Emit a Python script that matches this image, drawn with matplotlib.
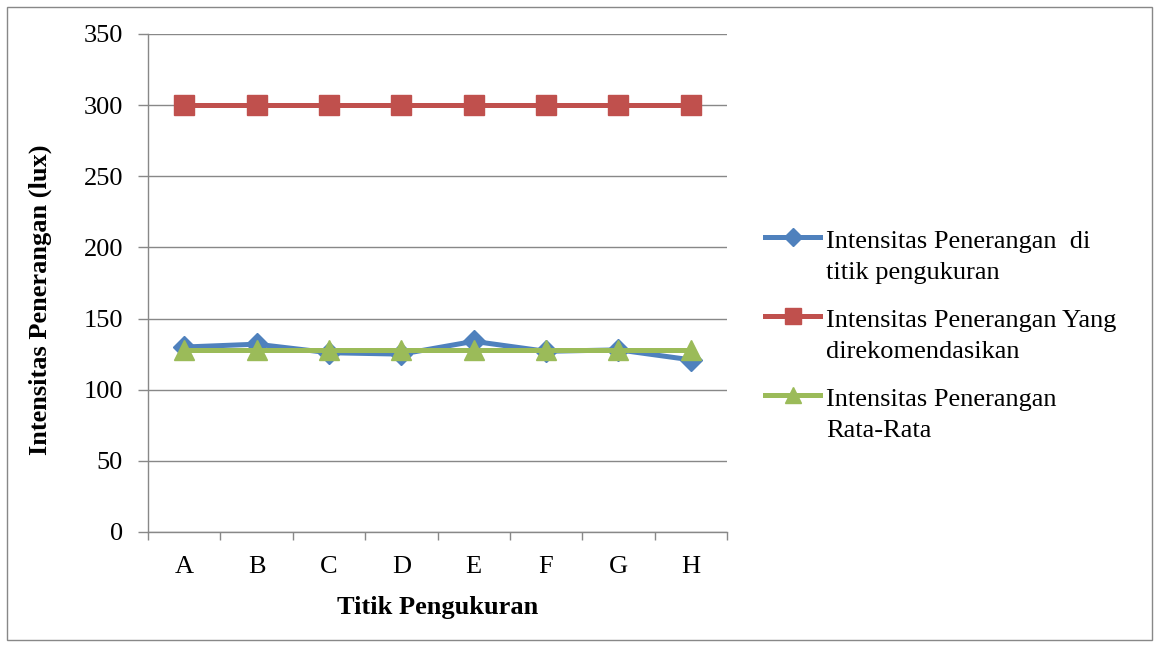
import matplotlib
matplotlib.use("Agg")
import matplotlib.pyplot as plt
from matplotlib.patches import Rectangle
from matplotlib.lines import Line2D

categories = ["A", "B", "C", "D", "E", "F", "G", "H"]
measured = [130, 132, 126, 125, 134, 127, 128, 121]
recommended = [300, 300, 300, 300, 300, 300, 300, 300]
average = [127.9, 127.9, 127.9, 127.9, 127.9, 127.9, 127.9, 127.9]
labels = ["Intensitas Penerangan  di\ntitik pengukuran",
          "Intensitas Penerangan Yang\ndirekomendasikan",
          "Intensitas Penerangan\nRata-Rata"]
yticks = [0, 50, 100, 150, 200, 250, 300, 350]

plt.rcParams['font.family'] = ['Liberation Serif', 'DejaVu Serif']
W, H = 1159, 647
FS = 19
fig = plt.figure(figsize=(W / 100, H / 100), dpi=100)
ax = fig.add_axes([148 / W, 1 - 532 / H, (727 - 148) / W, (532 - 34) / H])

styles = [dict(color="#4F81BD", marker="D", ms=11),
          dict(color="#C0504D", marker="s", ms=14),
          dict(color="#9BBB59", marker="^", ms=14)]
LW = 3.6

x = list(range(len(categories)))
for vals, st, z in zip([measured, recommended, average], styles, [3, 3, 4]):
    ax.plot(x, vals, lw=LW, zorder=z, **st)

ax.set_xlim(-0.5, len(categories) - 0.5)
ax.set_ylim(0, 350)
ax.set_yticks(yticks)
ax.set_yticklabels([str(v) for v in yticks], fontsize=FS)
ax.set_xticks(x)
ax.set_xticklabels(categories, fontsize=FS)
ax.set_xticks([i - 0.5 for i in range(len(categories) + 1)], minor=True)
ax.tick_params(axis="x", which="major", length=0, pad=17)
ax.tick_params(axis="x", which="minor", length=6, color="#888888", width=1)
ax.tick_params(axis="y", length=7, color="#888888", width=1, pad=11)
ax.grid(axis="y", color="#888888", lw=1)
ax.set_axisbelow(True)
for s in ["top", "right"]:
    ax.spines[s].set_visible(False)
for s in ["left", "bottom"]:
    ax.spines[s].set_color("#888888")
    ax.spines[s].set_linewidth(1)

ax.set_xlabel("Titik Pengukuran", fontsize=FS, fontweight="bold", labelpad=13)
ax.set_ylabel("Intensitas Penerangan (lux)", fontsize=FS, fontweight="bold", labelpad=23)
ax.yaxis.label.set_y(0.466)

# legend drawn manually: handle aligned with the first text line
def fx(px):
    return px / W

def fy(py):
    return 1 - py / H

for i, (lab, st) in enumerate(zip(labels, styles)):
    yc = 237 + i * 79
    fig.add_artist(Line2D([fx(765), fx(792.5), fx(820)], [fy(yc)] * 3,
                          transform=fig.transFigure, lw=LW, markevery=[1],
                          color=st["color"], marker=st["marker"], ms=st["ms"] * 0.85))
    for j, line in enumerate(lab.split("\n")):
        fig.text(fx(826), fy(yc + 11 + j * 31), line, fontsize=FS, va="baseline", ha="left")

fig.patches.append(Rectangle((7 / W, 1 - 640 / H), (1152 - 7) / W, (640 - 7) / H,
                             transform=fig.transFigure, fill=False, ec="#888888", lw=1))

fig.savefig("out.png", dpi=100)
